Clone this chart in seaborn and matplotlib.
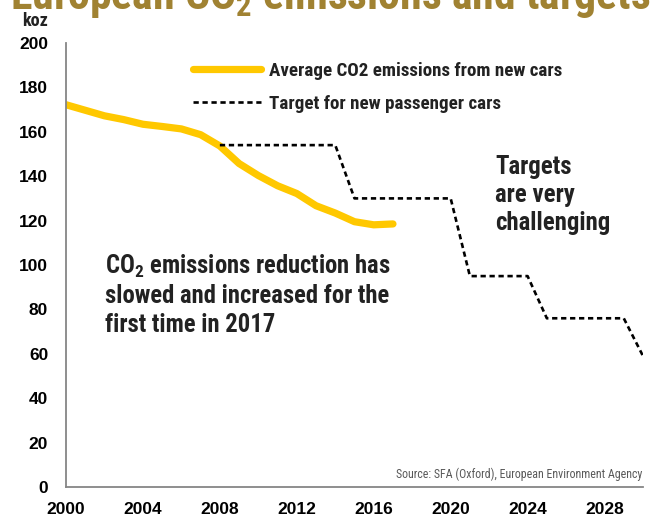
import matplotlib
matplotlib.use("Agg")
import matplotlib.pyplot as plt
import seaborn as sns
import pandas as pd
from matplotlib import font_manager as fm
from matplotlib.lines import Line2D

# ---------------- data ----------------
years_avg = [2000, 2001, 2002, 2003, 2004, 2005, 2006, 2007, 2008, 2009,
             2010, 2011, 2012, 2013, 2014, 2015, 2016, 2017]
avg_co2 = [172.2, 169.7, 167.2, 165.5, 163.4, 162.4, 161.3, 158.7, 153.6, 145.7,
           140.3, 135.7, 132.2, 126.7, 123.4, 119.5, 118.1, 118.5]

years_target = [2008, 2009, 2010, 2011, 2012, 2013, 2014, 2015, 2016, 2017, 2018,
                2019, 2020, 2021, 2022, 2023, 2024, 2025, 2026, 2027, 2028, 2029, 2030]
target = [154, 154, 154, 154, 154, 154, 154, 130, 130, 130, 130,
          130, 130, 95, 95, 95, 95, 76, 76, 76, 76, 76, 59]

y_ticks = [0, 20, 40, 60, 80, 100, 120, 140, 160, 180, 200]
x_ticks = list(range(2000, 2031))
x_labels = [str(y) if (y - 2000) % 4 == 0 else "" for y in x_ticks]

label_avg = "Average CO2 emissions from new cars"
label_target = "Target for new passenger cars"
title = "European CO$_\\mathbf{2}$ emissions and targets"
note1 = "CO$_\\mathbf{2}$ emissions reduction has\nslowed and increased for the\nfirst time in 2017"
note2 = "Targets\nare very\nchallenging"
source = "Source: SFA (Oxford), European Environment Agency"

df_avg = pd.DataFrame({"year": years_avg, "value": avg_co2})
df_target = pd.DataFrame({"year": years_target, "value": target})

# ---------------- fonts ----------------
sns.set_style("white")
entries = fm.fontManager.ttflist
names = {f.name for f in entries}
cond_name = None
for cand in ["Liberation Sans Narrow", "Roboto Condensed", "Open Sans Condensed",
             "Noto Sans Condensed", "DejaVu Sans Condensed"]:
    if cand in names:
        cond_name = cand
        break
if cond_name is None:
    for f in entries:
        if ("Narrow" in f.name or "Condensed" in f.name) and "CJK" not in f.name:
            cond_name = f.name
            break
if cond_name is None:
    cond_name = "Roboto" if "Roboto" in names else "Liberation Sans"
COND = {"family": [cond_name, "DejaVu Sans"]}

plt.rcParams["font.family"] = ["Liberation Sans", "DejaVu Sans"]
plt.rcParams["mathtext.fontset"] = "custom"
plt.rcParams["mathtext.rm"] = cond_name
plt.rcParams["mathtext.bf"] = cond_name + ":bold"

W, H = 655, 519
fig = plt.figure(figsize=(W / 100, H / 100), dpi=100)
ax = fig.add_axes([66 / W, 1 - 487 / H, (643 - 66) / W, (487 - 43) / H])
renderer = fig.canvas.get_renderer()


def fit(text_obj, target_px):
    """Scale the font size so the text block is target_px wide."""
    fs = text_obj.get_fontsize()
    w = text_obj.get_window_extent(renderer).width
    text_obj.set_fontsize(fs * target_px / w)
    return text_obj.get_fontsize()


YELLOW = "#FFC800"
GREY = "#868686"
DASH = (0, (2.0, 1.4))

sns.lineplot(data=df_avg, x="year", y="value", ax=ax, color=YELLOW, lw=5.2,
             solid_capstyle="round", label=label_avg)
sns.lineplot(data=df_target, x="year", y="value", ax=ax, color="black", lw=1.9,
             linestyle=DASH, label=label_target)

ax.set_xlim(2000, 2030)
ax.set_ylim(0, 200)
ax.set_xticks(x_ticks)
ax.set_xticklabels(x_labels, fontsize=12.5, fontweight="bold")
ax.set_yticks(y_ticks)
ax.set_yticklabels([str(v) for v in y_ticks], fontsize=12.5, fontweight="bold")
ax.set_xlabel("")
ax.set_ylabel("")
for s in ["top", "right"]:
    ax.spines[s].set_visible(False)
for s in ["left", "bottom"]:
    ax.spines[s].set_color(GREY)
    ax.spines[s].set_linewidth(1.3)
ax.tick_params(axis="both", direction="out", length=4.3, width=1.3, color=GREY,
               labelcolor="black")
ax.tick_params(axis="x", pad=6.5)
ax.tick_params(axis="y", pad=8.5)

# legend: font size fitted so the first label is ~293 px wide
probe = fig.text(0, 0, label_avg, fontsize=13, fontweight="bold", **COND)
leg_fs = fit(probe, 293)
probe.remove()
leg_px = leg_fs * 100 / 72
handles = [Line2D([], [], color=YELLOW, lw=5.2, solid_capstyle="round"),
           Line2D([], [], color="black", lw=1.9, linestyle=DASH)]
leg = ax.legend(handles, [label_avg, label_target], loc="upper left",
                bbox_to_anchor=(193 / W, 1 - 62 / H), bbox_transform=fig.transFigure,
                frameon=False, handlelength=68 / leg_px, handletextpad=8 / leg_px,
                labelspacing=(37.5 - 1.2 * leg_px) / leg_px, borderpad=0,
                borderaxespad=0, fontsize=leg_fs)
for txt in leg.get_texts():
    txt.set_family(COND["family"])
    txt.set_fontweight("bold")
    txt.set_color("#222222")

# title (partially clipped at the top, as in the reference)
t = fig.text(330 / W, 1 - 9 / H, title, ha="center", va="baseline",
             color="#A08232", fontsize=30, fontweight="bold", **COND)
fit(t, 640)

k = fig.text(35 / W, 1 - 21 / H, "koz", ha="center", va="center", fontsize=12,
             fontweight="bold", color="#222222", **COND)
fit(k, 26)

n1 = fig.text(105 / W, 1 - 253 / H, note1, ha="left", va="top", fontsize=15,
              fontweight="bold", color="#222222", linespacing=1.22, **COND)
fit(n1, 287)
n2 = fig.text(495 / W, 1 - 155 / H, note2, ha="left", va="top", fontsize=15,
              fontweight="bold", color="#222222", linespacing=1.22, **COND)
fit(n2, 115)

src = fig.text(642 / W, 1 - 478 / H, source, ha="right", va="baseline", fontsize=9,
               color="#595959", **COND)
fit(src, 246)

fig.savefig("out.png", dpi=100)
